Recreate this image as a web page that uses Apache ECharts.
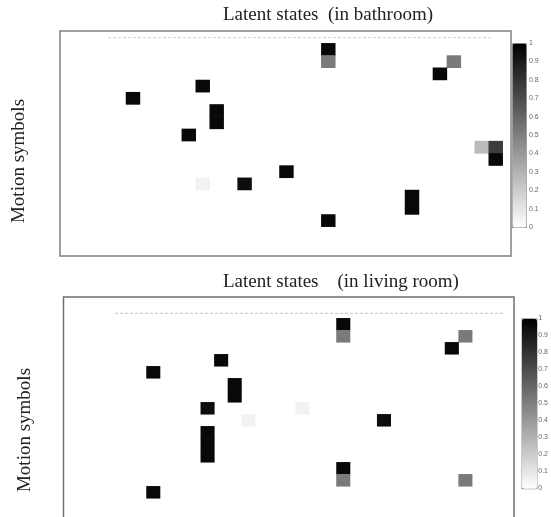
<!DOCTYPE html>
<html>
<head>
<meta charset="utf-8">
<script src="https://cdn.jsdelivr.net/npm/echarts@6/dist/echarts.min.js"></script>
<style>
  html, body { margin: 0; padding: 0; background: #ffffff; }
  #chart { width: 551px; height: 517px; }
</style>
</head>
<body>
<div id="chart"></div>
<script>
// ---- data ----
var titleBathroom = 'Latent states  (in bathroom)';
var titleLivingRoom = 'Latent states    (in living room)';
var yLabel = 'Motion symbols';

// column = latent state index, row = motion symbol index (row 0 at top)
var stateCategories = ['1','2','3','4','5','6','7','8','9','10','11','12','13','14','15','16','17','18','19','20','21','22','23','24','25','26','27'];
var symbolCategories = ['1','2','3','4','5','6','7','8','9','10','11','12','13','14','15'];
var colorbarTicks = [0, 0.1, 0.2, 0.3, 0.4, 0.5, 0.6, 0.7, 0.8, 0.9, 1];

// [state, symbol, probability]
var bathroomCells = [
  [14, 0, 0.97], [14, 1, 0.52], [23, 1, 0.52], [22, 2, 0.97],
  [5, 3, 0.97], [0, 4, 0.97], [6, 5, 0.97], [6, 6, 0.97],
  [4, 7, 0.97], [25, 8, 0.27], [26, 8, 0.76], [26, 9, 0.97],
  [11, 10, 0.97], [5, 11, 0.05], [8, 11, 0.95], [20, 12, 0.97],
  [20, 13, 0.97], [14, 14, 0.97]
];
var livingRoomCells = [
  [14, 0, 0.97], [14, 1, 0.52], [23, 1, 0.52], [22, 2, 0.97],
  [5, 3, 0.97], [0, 4, 0.97], [6, 5, 0.97], [6, 6, 0.97],
  [4, 7, 0.95], [11, 7, 0.05], [7, 8, 0.05], [17, 8, 0.95],
  [4, 9, 0.97], [4, 10, 0.97], [4, 11, 0.97],
  [14, 12, 0.97], [14, 13, 0.52], [23, 13, 0.52], [0, 14, 0.97]
];

// ---- chart ----
var chart = echarts.init(document.getElementById('chart'), null, { renderer: 'canvas' });
var serif = '"Liberation Serif", "Times New Roman", serif';
var sans = '"Liberation Sans", Arial, sans-serif';

function catAxisX(gi) {
  return { type: 'category', gridIndex: gi, data: stateCategories, show: false, boundaryGap: true };
}
function catAxisY(gi) {
  return { type: 'category', gridIndex: gi, data: symbolCategories, show: false, inverse: true, boundaryGap: true };
}
function barAxisY(gi) {
  return {
    type: 'value', gridIndex: gi, min: colorbarTicks[0], max: colorbarTicks[colorbarTicks.length - 1],
    interval: colorbarTicks[1] - colorbarTicks[0], position: 'right',
    axisLine: { show: false },
    axisTick: { show: true, length: 2, inside: false, lineStyle: { color: '#999', width: 0.8 } },
    splitLine: { show: false },
    axisLabel: { fontSize: 7, color: '#666', margin: 3, fontFamily: sans,
      formatter: function (v) { return String(Math.round(v * 10) / 10); } }
  };
}

var option = {
  backgroundColor: '#ffffff',
  animation: false,
  title: [
    { text: titleBathroom, left: 223, top: 6, padding: 0,
      textStyle: { fontFamily: serif, fontSize: 19, fontWeight: 'normal', color: '#222' } },
    { text: titleLivingRoom, left: 223, top: 273, padding: 0,
      textStyle: { fontFamily: serif, fontSize: 19, fontWeight: 'normal', color: '#222' } }
  ],
  grid: [
    { left: 126, top: 43.3, width: 376.7, height: 183.4 },
    { left: 146.5, top: 318.3, width: 366.4, height: 180 },
    { left: 512, top: 43, width: 14, height: 184 },
    { left: 521.5, top: 318.3, width: 15, height: 170 }
  ],
  xAxis: [
    catAxisX(0), catAxisX(1),
    { type: 'value', gridIndex: 2, show: false },
    { type: 'value', gridIndex: 3, show: false }
  ],
  yAxis: [
    catAxisY(0), catAxisY(1), barAxisY(2), barAxisY(3)
  ],
  visualMap: [
    { type: 'continuous', seriesIndex: 0, min: 0, max: 1, calculable: false, hoverLink: false,
      orient: 'vertical', left: 512, top: 43, itemWidth: 14, itemHeight: 184, padding: 0,
      text: null, showLabel: false,
      borderColor: '#999', borderWidth: 1,
      inRange: { color: ['#ffffff', '#000000'] } },
    { type: 'continuous', seriesIndex: 1, min: 0, max: 1, calculable: false, hoverLink: false,
      orient: 'vertical', left: 521.5, top: 318.3, itemWidth: 15, itemHeight: 170, padding: 0,
      text: null, showLabel: false,
      borderColor: '#999', borderWidth: 1,
      inRange: { color: ['#ffffff', '#000000'] } }
  ],
  series: [
    { type: 'heatmap', xAxisIndex: 0, yAxisIndex: 0, data: bathroomCells,
      itemStyle: { borderWidth: 0 } },
    { type: 'heatmap', xAxisIndex: 1, yAxisIndex: 1, data: livingRoomCells,
      itemStyle: { borderWidth: 0 } }
  ],
  graphic: [
    { type: 'rect', shape: { x: 60, y: 31, width: 451, height: 225 },
      style: { fill: null, stroke: '#808080', lineWidth: 1.5 }, z: 10 },
    { type: 'rect', shape: { x: 63.5, y: 297, width: 450.5, height: 240 },
      style: { fill: null, stroke: '#6f6f6f', lineWidth: 1.5 }, z: 10 },
    { type: 'line', shape: { x1: 108, y1: 37.7, x2: 493, y2: 37.7 },
      style: { stroke: '#cfcfcf', lineWidth: 1, lineDash: [3, 2] } },
    { type: 'line', shape: { x1: 115, y1: 313.3, x2: 505, y2: 313.3 },
      style: { stroke: '#c4c4c4', lineWidth: 1, lineDash: [3, 2] } },
    { type: 'text', x: 19, y: 161, rotation: Math.PI / 2,
      style: { text: yLabel, font: '19px ' + serif, fill: '#222', align: 'center', verticalAlign: 'middle' } },
    { type: 'text', x: 25, y: 430, rotation: Math.PI / 2,
      style: { text: yLabel, font: '19px ' + serif, fill: '#222', align: 'center', verticalAlign: 'middle' } }
  ]
};
chart.setOption(option);
</script>
</body>
</html>
